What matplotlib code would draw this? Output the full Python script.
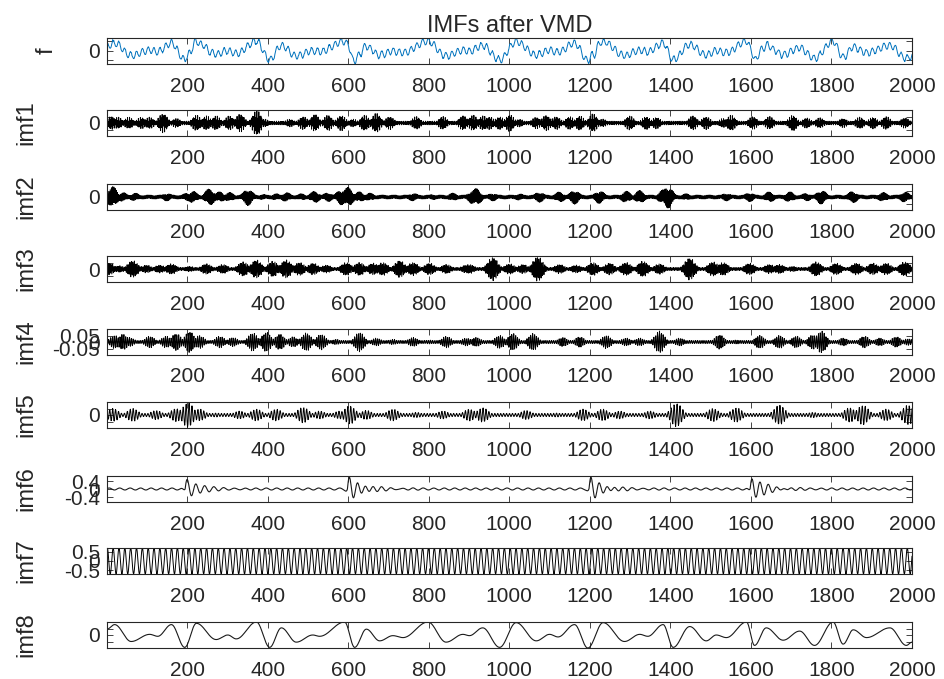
import numpy as np
import matplotlib
matplotlib.use("Agg")
import matplotlib.pyplot as plt

plt.rcParams['font.family'] = ['Liberation Sans', 'DejaVu Sans']

# ---------------- data ----------------
n_samples = 2000
x_ticks = [200, 400, 600, 800, 1000, 1200, 1400, 1600, 1800, 2000]
row_labels = ['f', 'imf1', 'imf2', 'imf3', 'imf4', 'imf5', 'imf6', 'imf7', 'imf8']

# imf8: extrema (sample, value in units of the panel half-height)
imf8_pos = [1, 20, 61, 107, 127, 161, 194, 223, 272, 301, 322, 372, 405, 434, 471, 512, 529,
            591, 616, 645, 678, 711, 736, 798, 843, 885, 901, 934, 976, 1017, 1067, 1100, 1121,
            1162, 1195, 1233, 1286, 1324, 1344, 1382, 1407, 1448, 1489, 1514, 1539, 1589, 1609,
            1638, 1680, 1721, 1758, 1804, 1829, 1854, 1887, 1945, 1986, 2000]
imf8_val = [0.45, 0.8, -0.5, 0.05, -0.1, 0.8, -0.95, 0.9, -0.35, 0.0, -0.3, 1.0, -0.95, 0.55,
            -0.55, 0.0, -0.1, 1.0, -0.95, 0.45, -0.45, -0.05, -0.2, 1.0, -0.55, 0.05, -0.05,
            0.55, -0.95, 0.95, -0.45, 0.05, -0.15, 0.8, -1.0, 0.95, -0.5, 0.05, -0.1, 0.8, -0.95,
            0.65, -0.45, 0.0, -0.2, 1.0, -0.8, 0.55, -0.4, 0.3, -0.8, 1.0, -0.7, 0.4, -0.2,
            0.55, -0.8, -0.55]
imf8_scale = 2.0

# imf7: steady oscillation
imf7_amp = 0.72
imf7_period = 14.5

# imf6: decaying bursts (onset sample, amplitude, period, decay length)
imf6_onset = [195, 598, 1198, 1598]
imf6_amp = [0.62, 0.62, 0.62, 0.62]
imf6_period = [22, 20, 20, 20]
imf6_decay = [32, 38, 34, 38]
imf6_floor = 0.05
imf6_floor_period = 26.0

# imf1..imf5: burst centres (sample) and envelope (fraction of panel half-height)
imf1_pos = [12, 28, 55, 86, 107, 140, 173, 223, 248, 272, 305, 332, 373, 392, 455, 488, 517, 550,
            583, 612, 641, 670, 703, 769, 835, 885, 910, 935, 951, 976, 1001, 1025, 1067, 1092,
            1117, 1150, 1175, 1208, 1232, 1299, 1340, 1365, 1456, 1489, 1531, 1551, 1605, 1646,
            1704, 1738, 1771, 1829, 1870, 1903, 1936, 1982]
imf1_amp = [0.5, 0.45, 0.45, 0.45, 0.45, 0.75, 0.35, 0.6, 0.55, 0.55, 0.55, 0.7, 1.0, 0.3, 0.3,
            0.5, 0.65, 0.6, 0.6, 0.3, 0.6, 0.75, 0.5, 0.5, 0.5, 0.55, 0.6, 0.55, 0.5, 0.5, 0.65,
            0.3, 0.45, 0.6, 0.5, 0.5, 0.55, 0.7, 0.3, 0.55, 0.5, 0.45, 0.55, 0.5, 0.35, 0.6, 0.5,
            0.5, 0.6, 0.4, 0.4, 0.35, 0.45, 0.45, 0.5, 0.4]
imf2_pos = [15, 40, 70, 150, 200, 214, 256, 281, 305, 351, 388, 421, 446, 484, 517, 550, 583, 600,
            628, 653, 761, 810, 860, 910, 918, 959, 1025, 1075, 1125, 1162, 1224, 1290, 1324, 1382,
            1394, 1439, 1539, 1597, 1646, 1696, 1738, 1775, 1853, 1928, 1982]
imf2_amp = [0.8, 0.35, 0.3, 0.3, 0.3, 0.45, 0.65, 0.4, 0.35, 0.65, 0.2, 0.25, 0.35, 0.25, 0.45,
            0.35, 0.6, 0.75, 0.4, 0.3, 0.3, 0.2, 0.3, 0.55, 0.65, 0.3, 0.25, 0.4, 0.4, 0.55, 0.5,
            0.45, 0.5, 0.55, 0.85, 0.25, 0.3, 0.35, 0.4, 0.4, 0.3, 0.55, 0.45, 0.35, 0.4]
imf3_pos = [7, 32, 65, 99, 132, 161, 206, 248, 289, 339, 372, 413, 446, 479, 513, 546, 595, 628,
            662, 686, 728, 761, 802, 844, 893, 901, 959, 1001, 1034, 1071, 1125, 1166, 1208, 1249,
            1290, 1332, 1373, 1448, 1506, 1531, 1597, 1646, 1671, 1704, 1762, 1812, 1862, 1903,
            1936, 1982]
imf3_amp = [0.45, 0.25, 0.65, 0.3, 0.3, 0.4, 0.2, 0.4, 0.35, 0.55, 0.7, 0.6, 0.7, 0.5, 0.45, 0.3,
            0.5, 0.5, 0.45, 0.5, 0.65, 0.5, 0.45, 0.35, 0.3, 0.35, 0.9, 0.4, 0.35, 0.95, 0.35, 0.3,
            0.5, 0.45, 0.5, 0.6, 0.4, 0.85, 0.55, 0.5, 0.45, 0.35, 0.35, 0.2, 0.55, 0.45, 0.45,
            0.45, 0.45, 0.55]
imf4_pos = [20, 41, 57, 107, 148, 173, 206, 231, 281, 314, 363, 397, 430, 463, 496, 533, 570, 628,
            670, 711, 761, 802, 844, 893, 918, 976, 1009, 1059, 1133, 1175, 1241, 1290, 1324, 1373,
            1423, 1522, 1564, 1622, 1671, 1713, 1754, 1775, 1829, 1882, 1920, 1961, 1990]
imf4_amp = [0.5, 0.6, 0.35, 0.45, 0.45, 0.65, 0.8, 0.5, 0.45, 0.35, 0.7, 0.75, 0.6, 0.4, 0.7, 0.6,
            0.2, 0.75, 0.3, 0.2, 0.35, 0.15, 0.45, 0.3, 0.35, 0.5, 0.65, 0.65, 0.35, 0.4, 0.5, 0.3,
            0.3, 0.85, 0.3, 0.55, 0.15, 0.5, 0.5, 0.45, 0.55, 0.85, 0.3, 0.45, 0.3, 0.4, 0.25]
imf5_pos = [16, 65, 123, 173, 202, 231, 272, 330, 372, 421, 488, 529, 579, 604, 645, 711, 769, 835,
            901, 934, 1042, 1117, 1183, 1232, 1274, 1349, 1415, 1506, 1564, 1671, 1754, 1845, 1878,
            1936, 1990]
imf5_amp = [0.5, 0.5, 0.35, 0.5, 0.95, 0.45, 0.15, 0.3, 0.45, 0.45, 0.6, 0.3, 0.3, 0.7, 0.35, 0.45,
            0.2, 0.3, 0.45, 0.55, 0.35, 0.15, 0.45, 0.45, 0.3, 0.3, 0.9, 0.5, 0.55, 0.75, 0.2, 0.55,
            0.75, 0.45, 0.75]

dense_names = ['imf1', 'imf2', 'imf3', 'imf4', 'imf5']
dense_pos = [imf1_pos, imf2_pos, imf3_pos, imf4_pos, imf5_pos]
dense_amp = [imf1_amp, imf2_amp, imf3_amp, imf4_amp, imf5_amp]
dense_scale = [0.12, 0.12, 0.1, 0.1, 0.15]      # half-height of each panel
dense_period = [2.45, 2.9, 3.6, 4.7, 7.3]       # carrier period, samples
dense_base = [0.14, 0.15, 0.12, 0.12, 0.12]     # envelope between bursts
dense_sigma = [10.0, 11.0, 12.0, 11.0, 13.0]    # burst half-width, samples

# ---------------- build the drawn series ----------------
t = np.arange(1, n_samples + 1, dtype=float)


def smooth_through(tt, xs, ys):
    xs = np.asarray(xs, float)
    ys = np.asarray(ys, float)
    idx = np.clip(np.searchsorted(xs, tt) - 1, 0, len(xs) - 2)
    x0, x1 = xs[idx], xs[idx + 1]
    y0, y1 = ys[idx], ys[idx + 1]
    u = np.clip((tt - x0) / (x1 - x0), 0, 1)
    return y0 + (y1 - y0) * (1 - np.cos(np.pi * u)) / 2


def burst_series(pos, amp, base, period, sigma, phase):
    env = np.zeros_like(t)
    for c, a in zip(pos, amp):
        env = np.maximum(env, a * np.exp(-0.5 * ((t - c) / sigma) ** 2))
    env = np.clip(np.maximum(env, base), 0, 1)
    return env * np.sin(2 * np.pi * t / period + phase)


series = {}
for k, name in enumerate(dense_names):
    series[name] = dense_scale[k] * burst_series(dense_pos[k], dense_amp[k], dense_base[k],
                                                 dense_period[k], dense_sigma[k], 0.3 * k)

imf6 = imf6_floor * np.sin(2 * np.pi * t / imf6_floor_period)
for on, a, p, d in zip(imf6_onset, imf6_amp, imf6_period, imf6_decay):
    rel = t - on
    env = np.where(rel >= 0, np.exp(-rel / d), np.exp(rel / 4.0) * 0.3)
    imf6 = imf6 + a * env * np.sin(2 * np.pi * rel / p)
series['imf6'] = imf6
series['imf7'] = imf7_amp * np.sin(2 * np.pi * t / imf7_period + 0.8)
series['imf8'] = imf8_scale * smooth_through(t, imf8_pos, imf8_val)
series['f'] = sum(series[k] for k in row_labels[1:])

# ---------------- figure ----------------
W, H = 944, 679
fig = plt.figure(figsize=(W / 100, H / 100), dpi=100)
tops = [38, 110, 184, 256, 329, 402, 476, 548, 622]
ax_h = 26
left, width = 107, 805

yconf = {
    'f': (None, [-2, 0, 2], ['', '0', '']),
    'imf1': ((-0.12, 0.12), [-0.06, 0, 0.06], ['', '0', '']),
    'imf2': ((-0.12, 0.12), [-0.06, 0, 0.06], ['', '0', '']),
    'imf3': ((-0.1, 0.1), [-0.05, 0, 0.05], ['', '0', '']),
    'imf4': ((-0.1, 0.1), [-0.05, 0, 0.05], ['-0.05', '0', '0.05']),
    'imf5': ((-0.15, 0.15), [-0.075, 0, 0.075], ['', '0', '']),
    'imf6': ((-0.65, 0.65), [-0.4, 0, 0.4], ['-0.4', '0', '0.4']),
    'imf7': ((-0.72, 0.72), [-0.5, 0, 0.5], ['-0.5', '0', '0.5']),
    'imf8': (None, [-1, 0, 1], ['', '0', '']),
}

edge = '#262626'
for i, name in enumerate(row_labels):
    ax = fig.add_axes([left / W, 1 - (tops[i] + ax_h) / H, width / W, ax_h / H])
    y = series[name]
    if name == 'f':
        ax.plot(t, y, color='#0072BD', lw=0.7)
    elif name in ('imf6', 'imf8'):
        ax.plot(t, y, color='#1a1a1a', lw=0.8)
    else:
        ax.plot(t, y, color='black', lw=0.7)
    ax.set_xlim(1, n_samples)
    lim, yt, ytl = yconf[name]
    if lim is None:
        lim = (y.min(), y.max())
    ax.set_ylim(*lim)
    ax.set_xticks(x_ticks)
    ax.set_xticklabels([str(v) for v in x_ticks])
    ax.set_yticks(yt)
    ax.set_yticklabels(ytl)
    ax.tick_params(axis='both', direction='in', length=4.5, width=0.6, colors=edge,
                   labelcolor='#262626', labelsize=15, top=True, right=True)
    ax.tick_params(axis='x', pad=9)
    ax.tick_params(axis='y', pad=5)
    for s in ax.spines.values():
        s.set_color(edge)
        s.set_linewidth(0.8)
    ax.set_ylabel(name, fontsize=17, color='#262626')
    if name == 'f':
        ax.yaxis.set_label_coords((58 - left) / width, 0.5)
        ax.set_title('IMFs after VMD', fontsize=17, color='#262626', pad=4)
    else:
        ax.yaxis.set_label_coords((37 - left) / width, 0.5)

fig.savefig('out.png', dpi=100)
